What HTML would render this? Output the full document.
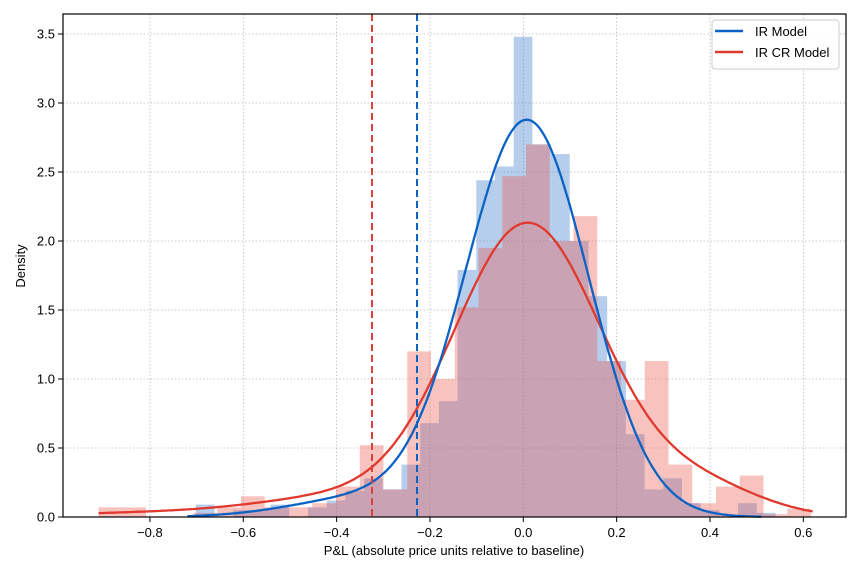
<!DOCTYPE html>
<html><head><meta charset="utf-8"><style>
html,body{margin:0;padding:0;background:#fff;}
svg{display:block;font-family:"Liberation Sans","DejaVu Sans",sans-serif;}
</style></head><body>
<svg id="s" width="860" height="573" viewBox="0 0 860 573" xmlns="http://www.w3.org/2000/svg">
<rect width="860" height="573" fill="#fff"/>
<g id="grid"></g>
<g id="bars"></g>
<g id="curves"></g>
<line x1="372" y1="14" x2="372" y2="517" stroke="#d9423a" stroke-width="2" stroke-dasharray="7,4"/>
<line x1="417" y1="14" x2="417" y2="517" stroke="#0b62c4" stroke-width="2" stroke-dasharray="7,4"/>
<rect x="63" y="14" width="783" height="503" fill="none" stroke="#000" stroke-width="1.2"/>
<g id="ticks" font-size="13" fill="#000"></g>
<text x="454" y="555" font-size="13" text-anchor="middle">P&amp;L (absolute price units relative to baseline)</text>
<text transform="translate(25,266) rotate(-90)" font-size="13" text-anchor="middle">Density</text>
<rect x="712" y="20" width="127" height="49" rx="3" fill="#fff" fill-opacity="0.85" stroke="#ccc"/>
<line x1="715" y1="31" x2="743" y2="31" stroke="#0b62c4" stroke-width="2.5"/>
<line x1="715" y1="52" x2="743" y2="52" stroke="#e0392e" stroke-width="2.5"/>
<text x="755" y="36" font-size="13">IR Model</text>
<text x="755" y="57" font-size="13">IR CR Model</text>
</svg>
<script>
var NS="http://www.w3.org/2000/svg";
function X(v){return 523.3+v*466.7;}
function Y(d){return 517-d*138;}
function el(p,t,a,txt){var e=document.createElementNS(NS,t);for(var k in a)e.setAttribute(k,a[k]);if(txt!=null)e.textContent=txt;document.getElementById(p).appendChild(e);return e;}
[-0.8,-0.6,-0.4,-0.2,0,0.2,0.4,0.6].forEach(function(v){var x=X(v);
 el("grid","line",{x1:x,y1:14,x2:x,y2:517,stroke:"#bbb","stroke-width":0.8,"stroke-dasharray":"1.5,2"});
 el("ticks","line",{x1:x,y1:517,x2:x,y2:522,stroke:"#000"});
 el("ticks","text",{x:x,y:537,"text-anchor":"middle"},(v<0?"\u2212":"")+Math.abs(v).toFixed(1));});
[0,0.5,1,1.5,2,2.5,3,3.5].forEach(function(v){var y=Y(v);
 if(v>0)el("grid","line",{x1:63,y1:y,x2:846,y2:y,stroke:"#bbb","stroke-width":0.8,"stroke-dasharray":"1.5,2"});
 el("ticks","line",{x1:58,y1:y,x2:63,y2:y,stroke:"#000"});
 el("ticks","text",{x:55,y:y+4.5,"text-anchor":"end"},v.toFixed(1));});
var bw=18.7, b0=513.7-19*bw;
var blue=[0,0,0.09,0,0.05,0.05,0.09,0,0.07,0.12,0.19,0.28,0.2,0.38,0.68,0.84,1.79,2.44,2.54,3.48,2.7,2.63,2.0,1.6,1.13,0.6,0.2,0.28,0.1,0.05,0,0.1,0.03];
blue.forEach(function(d,i){if(d>0)el("bars","rect",{x:b0+i*bw,y:Y(d),width:bw,height:517-Y(d),fill:"#3f7fcc","fill-opacity":0.38});});
var rw=23.75,r0=98.5;
var red=[0.07,0.07,0,0,0.03,0.07,0.15,0.07,0.07,0.1,0.22,0.52,0.2,1.2,1.0,1.52,1.95,2.47,2.7,2.0,2.18,1.13,0.85,1.13,0.38,0.1,0.22,0.3,0.02,0.06];
red.forEach(function(d,i){if(d>0)el("bars","rect",{x:r0+i*rw,y:Y(d),width:rw,height:517-Y(d),fill:"#ec5a4e","fill-opacity":0.36});});
function N(x,m,s){return Math.exp(-0.5*((x-m)/s)*((x-m)/s))/(s*2.5066);}
function fb(x){return 0.95*N(x,0.008,0.132)+0.05*N(x,-0.35,0.15);}
function fr(x){return 0.85*N(x,0.01,0.16)+0.06*N(x,-0.4,0.18)+0.015*N(x,-0.8,0.2)+0.07*N(x,0.38,0.13);}
function path(f,a,b,c){var d="";for(var i=0;i<=300;i++){var x=a+(b-a)*i/300;d+=(i?"L":"M")+X(x).toFixed(1)+","+Y(f(x)).toFixed(1);}
 el("curves","path",{d:d,fill:"none",stroke:c,"stroke-width":2.3});}
path(fr,-0.91,0.62,"#e0392e");
path(fb,-0.72,0.51,"#0b62c4");
</script>
</body></html>
